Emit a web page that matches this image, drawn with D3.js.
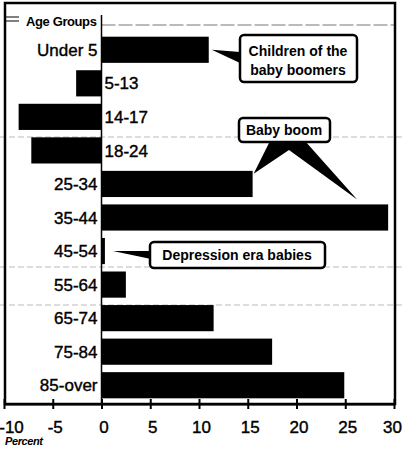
<!DOCTYPE html>
<meta charset="utf-8">
<script src="https://d3js.org/d3.v7.min.js"></script>
<style>
body { margin: 0; background: #fff; font-family: 'Liberation Sans', Arial, sans-serif; }
svg { display: block; }
.cat { font-size: 17px; fill: #000; stroke: #000; stroke-width: 0.4px; }
.tick-label { font-size: 17px; fill: #000; stroke: #000; stroke-width: 0.4px; }
.note { font-size: 14px; font-weight: bold; fill: #000; }
</style>
<body>
<svg width="404" height="450"></svg>
<script>
// data (percent change by age group)
var categories = ["Under 5", "5-13", "14-17", "18-24", "25-34", "35-44", "45-54", "55-64", "65-74", "75-84", "85-over"];
var values = [11.0, -2.6, -8.5, -7.2, 15.5, 29.4, 0.35, 2.5, 11.5, 17.5, 24.9];
var ticks = [-10, -5, 0, 5, 10, 15, 20, 25, 30];

var data = categories.map(function(c, i) { return {cat: c, val: values[i]}; });

var svg = d3.select("svg");

var x = d3.scaleLinear().domain([-10, 30]).range([4, 394]);
var y = d3.scaleBand().domain(categories).range([33, 402]).paddingInner(0.22).paddingOuter(0.11);

var axisY = 404;

// faint scan / rule lines
svg.append("g")
  .selectAll("line")
  .data([137, 267, 305])
  .enter().append("line")
  .attr("x1", 0).attr("x2", 404)
  .attr("y1", function(d) { return d; }).attr("y2", function(d) { return d; })
  .attr("stroke", "#bbb").attr("stroke-width", 1).attr("stroke-dasharray", "6,3");

svg.append("line")
  .attr("x1", x(0)).attr("x2", 395).attr("y1", 25).attr("y2", 25)
  .attr("stroke", "#777").attr("stroke-width", 1.2).attr("stroke-dasharray", "14,3");

// frame
svg.append("rect")
  .attr("x", 5).attr("y", 3).attr("width", 390).attr("height", axisY - 3)
  .attr("fill", "none").attr("stroke", "#000").attr("stroke-width", 2.5);

// zero line
svg.append("line")
  .attr("x1", x(0)).attr("x2", x(0)).attr("y1", 15).attr("y2", axisY)
  .attr("stroke", "#000").attr("stroke-width", 1.5);

// bars
svg.append("g")
  .selectAll("rect")
  .data(data)
  .enter().append("rect")
  .attr("x", function(d) { return x(Math.min(0, d.val)); })
  .attr("y", function(d) { return y(d.cat); })
  .attr("width", function(d) { return Math.abs(x(d.val) - x(0)); })
  .attr("height", y.bandwidth())
  .attr("fill", "#000");

// category labels: left of zero for positive bars, right of zero for negative
svg.append("g")
  .selectAll("text")
  .data(data)
  .enter().append("text")
  .attr("class", "cat")
  .attr("x", function(d) { return d.val < 0 ? x(0) + 3 : x(0) - 4; })
  .attr("y", function(d) { return y(d.cat) + y.bandwidth() / 2; })
  .attr("dy", "0.36em")
  .attr("text-anchor", function(d) { return d.val < 0 ? "start" : "end"; })
  .text(function(d) { return d.cat; });

// header
svg.append("text")
  .attr("x", x(0) - 5).attr("y", 26)
  .attr("text-anchor", "end")
  .attr("font-size", 13).attr("font-weight", "bold")
  .attr("letter-spacing", "-0.4px")
  .text("Age Groups");
svg.append("line").attr("x1", 6).attr("x2", 19).attr("y1", 17).attr("y2", 17).attr("stroke", "#000");
svg.append("line").attr("x1", 6).attr("x2", 19).attr("y1", 21).attr("y2", 21).attr("stroke", "#000");

// bottom axis
var ax = svg.append("g")
  .attr("transform", "translate(0," + axisY + ")")
  .call(d3.axisBottom(x).tickValues(ticks).tickSize(0).tickFormat(""));
ax.select(".domain").attr("stroke", "#000").attr("stroke-width", 2);
ax.selectAll(".tick line").remove();
ax.selectAll(".tick").append("line")
  .attr("y1", -5).attr("y2", 5)
  .attr("stroke", "#000").attr("stroke-width", 2);
ax.selectAll(".tick").append("text")
  .attr("class", "tick-label")
  .attr("x", function(d) { return d === -10 ? 7 : d === 30 ? -2 : 2; })
  .attr("y", 29)
  .attr("text-anchor", "middle")
  .text(function(d) { return d; });

svg.append("text")
  .attr("x", 5).attr("y", 445)
  .attr("font-size", 11).attr("font-weight", "bold").attr("font-style", "italic")
  .attr("letter-spacing", "-0.4px")
  .text("Percent");

// annotations
function yc(cat) { return y(cat) + y.bandwidth() / 2; }

var notes = svg.append("g");

// Children of the baby boomers
notes.append("path")
  .attr("d", "M240,52 L" + (x(values[0]) + 3) + "," + yc("Under 5") + " L240,63 Z")
  .attr("fill", "#000");
notes.append("rect")
  .attr("x", 240).attr("y", 35).attr("width", 117).attr("height", 47).attr("rx", 4)
  .attr("fill", "#fff").attr("stroke", "#000").attr("stroke-width", 2.5);
notes.append("text").attr("class", "note").attr("x", 298).attr("y", 56)
  .attr("text-anchor", "middle").text("Children of the");
notes.append("text").attr("class", "note").attr("x", 298).attr("y", 75)
  .attr("text-anchor", "middle").text("baby boomers");

// Baby boom
notes.append("path")
  .attr("d", "M270,141 L" + (x(values[4]) + 1) + "," + (y("25-34") + 3) +
        " L289,150 L" + (x(values[5]) - 31) + "," + (y("35-44") - 5) + " L305,141 Z")
  .attr("fill", "#000");
notes.append("rect")
  .attr("x", 239).attr("y", 118).attr("width", 91).attr("height", 24).attr("rx", 4)
  .attr("fill", "#fff").attr("stroke", "#000").attr("stroke-width", 2.5);
notes.append("text").attr("class", "note").attr("x", 284).attr("y", 135)
  .attr("text-anchor", "middle").text("Baby boom");

// Depression era babies
notes.append("path")
  .attr("d", "M151,251 L" + (x(values[6]) + 8) + "," + yc("45-54") + " L151,259 Z")
  .attr("fill", "#000");
notes.append("rect")
  .attr("x", 150).attr("y", 242).attr("width", 175).attr("height", 26).attr("rx", 4)
  .attr("fill", "#fff").attr("stroke", "#000").attr("stroke-width", 2.5);
notes.append("text").attr("class", "note").attr("x", 237).attr("y", 260)
  .attr("text-anchor", "middle").text("Depression era babies");
</script>
</body>
